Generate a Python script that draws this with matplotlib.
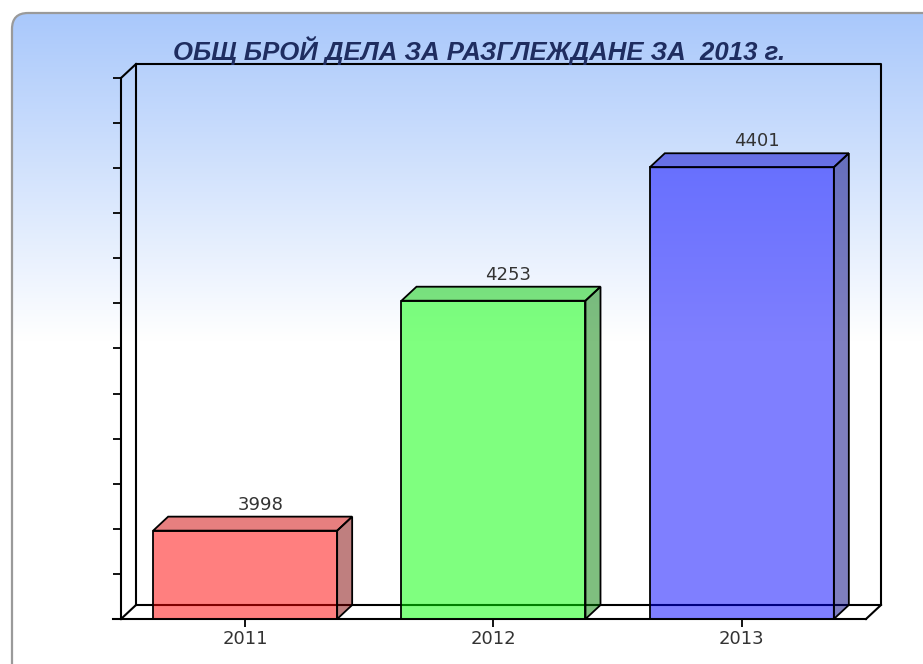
import matplotlib
matplotlib.use('Agg')
import matplotlib.pyplot as plt
import numpy as np
from matplotlib.patches import FancyBboxPatch, Polygon

# данни
years = ['2011', '2012', '2013']
cases = [3998, 4253, 4401]
front_colors = [(1, 0, 0, 0.5), (0, 1, 0, 0.5), (0, 0, 1, 0.5)]
top_colors = [(0.82, 0, 0, 0.5), (0, 0.8, 0, 0.5), (0, 0, 0.82, 0.5)]
side_colors = [(0.5, 0, 0, 0.5), (0, 0.5, 0, 0.5), (0, 0, 0.5, 0.5)]
title = 'ОБЩ БРОЙ ДЕЛА ЗА РАЗГЛЕЖДАНЕ ЗА  2013 г.'
y_min, y_max, y_step = 3900, 4500, 50

W, H = 923, 664
fig = plt.figure(figsize=(W / 100, H / 100), dpi=100)

# фон - заоблен панел с градиент
bg = fig.add_axes([0, 0, 1, 1])
bg.set_xlim(0, W)
bg.set_ylim(H, 0)
bg.axis('off')
panel = FancyBboxPatch((12, 13), 940, 700, boxstyle='round,pad=0,rounding_size=16',
                       facecolor='none', edgecolor='#9a9a9a', linewidth=1.6, zorder=2)
bg.add_patch(panel)
rows = np.linspace(13, H, 400)
t = np.clip((rows - 13) / (340 - 13), 0, 1)
top_c = np.array([169, 200, 251]) / 255
grad = top_c[None, :] * (1 - t[:, None]) + np.ones(3)[None, :] * t[:, None]
img = bg.imshow(grad[:, None, :], extent=(12, 952, H, 13), aspect='auto', zorder=1)
img.set_clip_path(panel)

# основна ос (предна равнина)
left, right, top, bottom = 121, 866, 78, 619
ax = fig.add_axes([left / W, 1 - bottom / H, (right - left) / W, (bottom - top) / H])
ax.set_facecolor('none')
ax.set_xlim(-0.5, 2.5)
ax.set_ylim(y_min, y_max)
ppx = (right - left) / 3
ppy = (bottom - top) / (y_max - y_min)
dx, dy = 15 / ppx, 14 / ppy  # дълбочина
bw = 184 / ppx

for s in ['top', 'right', 'bottom']:
    ax.spines[s].set_visible(False)
ax.spines['left'].set_linewidth(1.5)
ax.set_yticks(np.arange(y_min, y_max + 1, y_step))
ax.tick_params(axis='y', direction='out', length=6, width=1.3, labelleft=False)
ax.set_xticks(range(len(years)))
ax.set_xticklabels(years, fontsize=13, color='#333333')
ax.tick_params(axis='x', direction='out', length=6, width=1.3, pad=2)

lk = dict(color='black', linewidth=1.5, clip_on=False)
x0, x1 = -0.5, 2.5
# задна стена
ax.plot([x0 + dx, x0 + dx, x1 + dx, x1 + dx, x0 + dx],
        [y_min + dy, y_max + dy, y_max + dy, y_min + dy, y_min + dy], zorder=1, **lk)
ax.plot([x0, x0 + dx], [y_max, y_max + dy], zorder=1, **lk)
ax.plot([x0, x0 + dx], [y_min, y_min + dy], zorder=1, **lk)
ax.plot([x1, x1 + dx], [y_min, y_min + dy], zorder=1, **lk)
ax.plot([x0 - 8 / ppx, x1], [y_min, y_min], zorder=1, **lk)

# 3D колони
for i, v in enumerate(cases):
    a, b = i - bw / 2, i + bw / 2
    ax.bar(i, v - y_min, bottom=y_min, width=bw, facecolor=front_colors[i],
           edgecolor='black', linewidth=1.3, zorder=3)
    ax.add_patch(Polygon([(a, v), (a + dx, v + dy), (b + dx, v + dy), (b, v)],
                         closed=True, facecolor=top_colors[i], edgecolor='black',
                         linewidth=1.3, zorder=3, clip_on=False))
    ax.add_patch(Polygon([(b, y_min), (b + dx, y_min + dy), (b + dx, v + dy), (b, v)],
                         closed=True, facecolor=side_colors[i], edgecolor='black',
                         linewidth=1.3, zorder=3, clip_on=False))
    ax.annotate(str(v), (i + dx, v + dy), xytext=(0, 2), textcoords='offset points',
                ha='center', va='bottom', fontsize=13, color='#333333')

fig.text(479 / W, 1 - 50 / H, title, ha='center', va='center', fontsize=18.5,
         fontweight='bold', fontstyle='italic', color='#1f2d60', family='Liberation Sans')

fig.savefig('out.png', dpi=100)
